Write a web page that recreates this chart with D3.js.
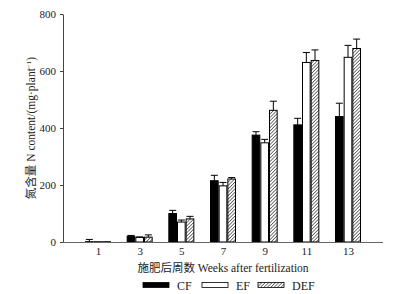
<!DOCTYPE html>
<html>
<head>
<meta charset="utf-8">
<script src="https://cdn.jsdelivr.net/npm/d3@7"></script>
<style>
  body { margin: 0; background: #fff; }
  svg { display: block; font-family: "Liberation Serif", "DejaVu Serif", serif; }
</style>
</head>
<body>
<svg class="chart"></svg>
<script>
const weeks = ["1", "3", "5", "7", "9", "11", "13"];
const seriesNames = ["CF", "EF", "DEF"];
const cfValues  = [1, 20, 100, 215, 375, 411, 440];
const cfErrors  = [8, 3, 11, 19, 12, 23, 47];
const efValues  = [1, 16, 70, 197, 348, 630, 648];
const efErrors  = [0, 2, 7, 12, 12, 35, 42];
const defValues = [1, 17, 81, 221, 462, 637, 679];
const defErrors = [0, 8, 9, 5, 32, 37, 33];
const yTicks = [0, 200, 400, 600, 800];

const W = 407, H = 294;
const plotLeft = 63, plotRight = 383, plotTop = 14, plotBottom = 242;

const svg = d3.select(".chart").attr("width", W).attr("height", H);

const defs = svg.append("defs");
const pat = defs.append("pattern")
    .attr("id", "hatch")
    .attr("patternUnits", "userSpaceOnUse")
    .attr("width", 2.4).attr("height", 2.4)
    .attr("patternTransform", "rotate(45)");
pat.append("rect").attr("width", 2.4).attr("height", 2.4).attr("fill", "#fff");
pat.append("line")
    .attr("x1", 0).attr("y1", 0).attr("x2", 0).attr("y2", 2.4)
    .attr("stroke", "#333").attr("stroke-width", 1.3);

const rows = weeks.map((w, i) => ({
    week: w,
    vals: [
        { key: "CF", v: cfValues[i], e: cfErrors[i] },
        { key: "EF", v: efValues[i], e: efErrors[i] },
        { key: "DEF", v: defValues[i], e: defErrors[i] }
    ]
}));

const x = d3.scalePoint().domain(weeks).range([plotLeft, plotRight]).padding(0.84);
const inner = d3.scaleBand().domain(seriesNames).range([-13, 13]);
const y = d3.scaleLinear().domain([0, 800]).range([plotBottom, plotTop]);

const fill = { CF: "#000", EF: "#fff", DEF: "url(#hatch)" };

const groups = svg.selectAll(".grp")
    .data(rows)
    .enter().append("g")
    .attr("transform", d => `translate(${x(d.week)},0)`);

groups.selectAll(".err")
    .data(d => d.vals.filter(v => v.e > 0))
    .enter().append("g")
    .each(function(d) {
        const cx = inner(d.key) + inner.bandwidth() / 2;
        const g = d3.select(this);
        g.append("line")
            .attr("x1", cx).attr("x2", cx)
            .attr("y1", y(d.v)).attr("y2", y(d.v + d.e))
            .attr("stroke", "#000");
        g.append("line")
            .attr("x1", cx - 3.5).attr("x2", cx + 3.5)
            .attr("y1", y(d.v + d.e)).attr("y2", y(d.v + d.e))
            .attr("stroke", "#000");
    });

groups.selectAll(".bar")
    .data(d => d.vals)
    .enter().append("rect")
    .attr("x", d => inner(d.key) + 0.5)
    .attr("width", inner.bandwidth() - 1)
    .attr("y", d => y(d.v))
    .attr("height", d => plotBottom - y(d.v))
    .attr("fill", d => fill[d.key])
    .attr("stroke", "#000")
    .attr("stroke-width", 1);

// axes
const yAxis = svg.append("g")
    .attr("transform", `translate(${plotLeft},0)`)
    .call(d3.axisLeft(y).tickValues(yTicks).tickSize(3).tickSizeOuter(0));
yAxis.select(".domain").attr("stroke", "#444");
yAxis.selectAll(".tick line").attr("stroke", "#444");
yAxis.selectAll("text").attr("font-size", 11).attr("font-family", "Liberation Serif").attr("fill", "#222").attr("dx", -1);

const xAxis = svg.append("g")
    .attr("transform", `translate(0,${plotBottom})`)
    .call(d3.axisBottom(x).tickSize(0).tickSizeOuter(0));
xAxis.select(".domain").attr("stroke", "#666").attr("d", `M${plotLeft},0.5H${plotRight}`);
xAxis.selectAll("text").attr("font-size", 11).attr("font-family", "Liberation Serif").attr("fill", "#222").attr("dy", "0.95em");

// titles
svg.append("text")
    .attr("transform", `translate(35,${(plotTop + plotBottom) / 2}) rotate(-90)`)
    .attr("text-anchor", "middle")
    .attr("font-size", 11.5)
    .attr("fill", "#222")
    .html('<tspan font-family="Noto Sans CJK SC">氮含量</tspan> N content/(mg·plant<tspan baseline-shift="super" font-size="7">−1</tspan>)');

svg.append("text")
    .attr("x", 223).attr("y", 272)
    .attr("text-anchor", "middle")
    .attr("font-size", 11.5)
    .attr("fill", "#222")
    .html('<tspan font-family="Noto Sans CJK SC">施肥后周数</tspan>  Weeks after fertilization');

// legend
const legendX = [143, 202, 258];
const legend = svg.selectAll(".leg")
    .data(seriesNames)
    .enter().append("g")
    .attr("transform", (d, i) => `translate(${legendX[i]},282.5)`);
legend.append("rect")
    .attr("width", 26).attr("height", 5)
    .attr("fill", d => fill[d])
    .attr("stroke", "#000").attr("stroke-width", 0.8);
legend.append("text")
    .attr("x", 34).attr("y", 7)
    .attr("font-size", 12)
    .attr("fill", "#222")
    .text(d => d);
</script>
</body>
</html>
